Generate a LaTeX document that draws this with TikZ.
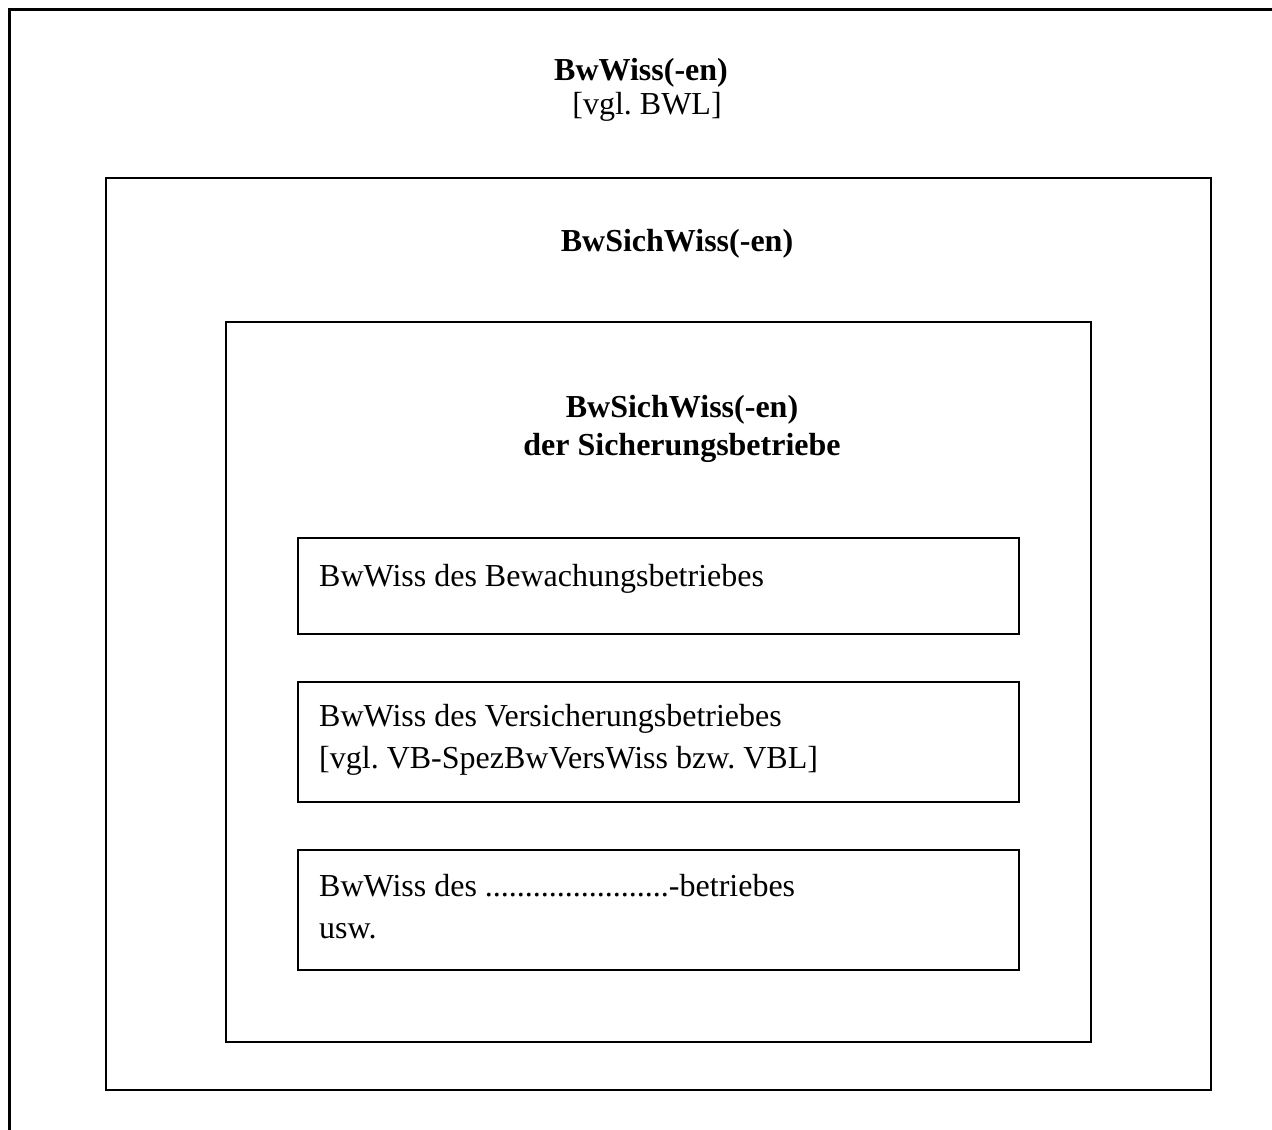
\documentclass[tikz,border=0pt]{standalone}
\usepackage{fontspec}
\setmainfont{Liberation Serif}
\frenchspacing
\tikzset{
  frame/.style={line width=2pt},
  outerframe/.style={line width=3pt},
  lbl/.style={anchor=base west, inner sep=0pt, font=\fontsize{32}{40}\selectfont},
  ttl/.style={anchor=base, inner sep=0pt, font=\fontsize{32}{40}\selectfont\bfseries}
}
\begin{document}
\begin{tikzpicture}[x=1pt,y=-1pt]
  \useasboundingbox (0,0) rectangle (1272,1130);
  \clip (0,0) rectangle (1272,1130);

  % Drawing outer frame (runs off the page)
  \draw [outerframe] (9,1200) -- (9,9) -- (1300,9);
  \node [ttl] (bwwiss) at (641,80) {BwWiss(-en)};
  \node [ttl, font=\fontsize{32}{40}\selectfont] (vglbwl) at (647,114) {[vgl. BWL]};

  % Drawing frame BwSichWiss
  \draw [frame] (106,178) rectangle (1211,1090);
  \node [ttl] (sich) at (677,251) {BwSichWiss(-en)};

  % Drawing frame Sicherungsbetriebe
  \draw [frame] (226,322) rectangle (1091,1042);
  \node [ttl] (sichb) at (682,417) {BwSichWiss(-en)};
  \node [ttl] (sichbb) at (682,455) {der Sicherungsbetriebe};

  % Drawing box Bewachung
  \draw [frame] (298,538) rectangle (1019,634);
  \node [lbl] (bew) at (319,586) {BwWiss des Bewachungsbetriebes};

  % Drawing box Versicherung
  \draw [frame] (298,682) rectangle (1019,802);
  \node [lbl] (vers) at (319,726) {BwWiss des Versicherungsbetriebes};
  \node [lbl] (versb) at (319,768) {[vgl. VB-SpezBwVersWiss bzw. VBL]};

  % Drawing box usw
  \draw [frame] (298,850) rectangle (1019,970);
  \node [lbl] (usw) at (319,896) {BwWiss des .......................-betriebes};
  \node [lbl] (uswb) at (319,938) {usw.};
\end{tikzpicture}
\end{document}
